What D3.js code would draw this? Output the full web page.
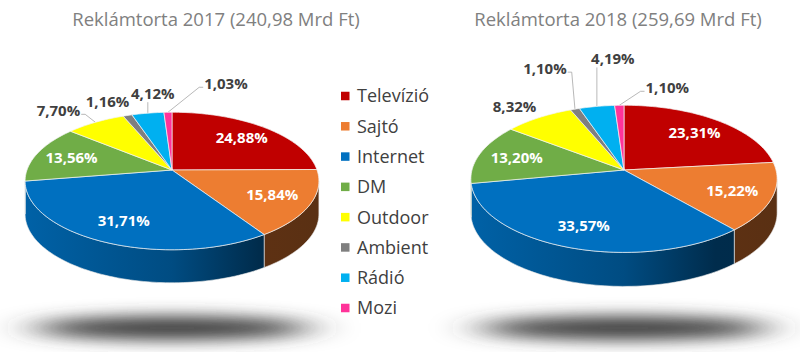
<!DOCTYPE html>
<html>
<head>
<meta charset="utf-8">
<script src="https://cdn.jsdelivr.net/npm/d3@7"></script>
<style>
  body { margin: 0; background: #fff; }
  svg { display: block; }
</style>
</head>
<body>
<div id="chart"></div>
<script>
// data
const categories = ["Televízió", "Sajtó", "Internet", "DM", "Outdoor", "Ambient", "Rádió", "Mozi"];
const colors = ["#c00000", "#ed7d31", "#0070c0", "#70ad47", "#ffff00", "#7f7f7f", "#00b0f0", "#ff3399"];
const values2017 = [24.88, 15.84, 31.71, 13.56, 7.70, 1.16, 4.12, 1.03];
const values2018 = [23.31, 15.22, 33.57, 13.20, 8.32, 1.10, 4.19, 1.10];
const titles = ["Reklámtorta 2017 (240,98 Mrd Ft)", "Reklámtorta 2018 (259,69 Mrd Ft)"];

const width = 800, height = 352;
const font = "'Open Sans', sans-serif";

// layout of the two tilted pies (k = perspective strength)
const pies = [
  { values: values2017, title: titles[0], titleX: 216, cx: 172, cy: 170, rx: 145, ry: 67, k: 0.16, depth: 33,
    outside: { 4: {dx: -37, dy: -12, line: true}, 5: {dx: -20, dy: -14, line: false},
               6: {dx: 5, dy: -20, line: true}, 7: {dx: 58, dy: -29, line: true} } },
  { values: values2018, title: titles[1], titleX: 618, cx: 624, cy: 170, rx: 152, ry: 72.5, k: 0.12, depth: 34,
    outside: { 4: {dx: -24, dy: -11, line: false}, 5: {dx: -30, dy: -41, line: true},
               6: {dx: 16, dy: -48, line: true}, 7: {dx: 48, dy: -18, line: true} } }
];

const svg = d3.select("#chart").append("svg")
  .attr("width", width).attr("height", height);
const defs = svg.append("defs");

const blur = defs.append("filter").attr("id", "shadowBlur")
  .attr("x", "-60%").attr("y", "-250%").attr("width", "220%").attr("height", "600%");
blur.append("feGaussianBlur").attr("stdDeviation", "24 8");

function project(p, angle, r, drop) {
  const u = r * Math.sin(angle), v = r * Math.cos(angle);
  const s = 1 + p.k * v;
  return [p.cx + p.rx * u / s, p.cy - p.ry * v / s + (drop || 0)];
}

function arcPoints(p, a0, a1, drop) {
  const n = Math.max(2, Math.ceil((a1 - a0) / (Math.PI / 120)));
  return d3.range(n + 1).map(i => project(p, a0 + (a1 - a0) * i / n, 1, drop));
}

const line = d3.line();
const pie = d3.pie().sort(null).value(d => d.value);

pies.forEach((p, pi) => {
  const data = categories.map((c, i) => ({ cat: c, value: p.values[i], color: colors[i], idx: i }));
  const arcs = pie(data);
  const g = svg.append("g");

  // floor shadow
  g.append("ellipse")
    .attr("cx", p.cx).attr("cy", 328)
    .attr("rx", p.rx * 0.95).attr("ry", 12)
    .attr("fill", "#3e3e3e")
    .attr("filter", "url(#shadowBlur)");

  // title
  g.append("text")
    .attr("x", p.titleX).attr("y", 26)
    .attr("text-anchor", "middle")
    .attr("font-family", font).attr("font-size", "18.5px")
    .attr("fill", "#808080")
    .text(p.title);

  // gradients for the side walls
  arcs.forEach(a => {
    const base = d3.color(a.data.color);
    const grad = defs.append("linearGradient")
      .attr("id", `side-${pi}-${a.index}`)
      .attr("gradientUnits", "userSpaceOnUse")
      .attr("x1", p.cx - p.rx).attr("x2", p.cx + p.rx)
      .attr("y1", 0).attr("y2", 0);
    [[0, 0.4], [0.5, 1.1], [0.8, 2.6], [1, 2.7]].forEach(([o, d]) => {
      grad.append("stop").attr("offset", o).attr("stop-color", base.darker(d).formatHex());
    });
  });

  // side walls (only the front half is visible)
  const thR = Math.acos(-p.k), thL = 2 * Math.PI - thR;
  arcs.forEach(a => {
    const a0 = Math.max(a.startAngle, thR), a1 = Math.min(a.endAngle, thL);
    if (a1 <= a0) return;
    const pts = arcPoints(p, a0, a1, 0).concat(arcPoints(p, a0, a1, p.depth).reverse());
    g.append("path")
      .attr("d", line(pts) + "Z")
      .attr("fill", `url(#side-${pi}-${a.index})`)
      .attr("stroke", "#e8e8e8").attr("stroke-width", 0.6);
  });

  // top faces
  arcs.forEach(a => {
    const pts = [[p.cx, p.cy]].concat(arcPoints(p, a.startAngle, a.endAngle, 0));
    g.append("path")
      .attr("d", line(pts) + "Z")
      .attr("fill", a.data.color)
      .attr("stroke", "#f4f4f4").attr("stroke-width", 0.7)
      .attr("stroke-linejoin", "round");
  });

  // labels
  arcs.forEach(a => {
    const mid = (a.startAngle + a.endAngle) / 2;
    const txt = d3.format(".2f")(a.data.value).replace(".", ",") + "%";
    const o = p.outside[a.index];
    if (!o) {
      const [x, y] = project(p, mid, 0.74, 0);
      g.append("text")
        .attr("x", x).attr("y", y).attr("dy", "0.36em")
        .attr("text-anchor", "middle")
        .attr("font-family", font).attr("font-size", "15px").attr("font-weight", "bold")
        .attr("fill", "#ffffff")
        .text(txt);
      return;
    }
    const anchor = project(p, mid, 1, 0);
    const lx = anchor[0] + o.dx, ly = anchor[1] + o.dy;
    const t = g.append("text")
      .attr("x", lx).attr("y", ly).attr("dy", "0.36em")
      .attr("text-anchor", "middle")
      .attr("font-family", font).attr("font-size", "15px").attr("font-weight", "bold")
      .attr("fill", "#404040")
      .text(txt);
    if (!o.line) return;
    const w = t.node().getComputedTextLength();
    const left = lx - w / 2, right = lx + w / 2;
    let pts;
    if (anchor[0] > left && anchor[0] < right) {
      pts = [anchor, [anchor[0], ly + 9]];
    } else if (anchor[0] <= left) {
      pts = [anchor, [left - 5, ly + 4], [left - 1, ly + 4]];
    } else {
      pts = [anchor, [right + 5, ly + 4], [right + 1, ly + 4]];
    }
    g.insert("path", "text")
      .attr("d", line(pts))
      .attr("fill", "none")
      .attr("stroke", "#a6a6a6").attr("stroke-width", 0.8);
  });
});

// legend
const legend = svg.append("g");
const rowY = d3.scalePoint().domain(categories).range([96, 308]);
categories.forEach((c, i) => {
  legend.append("rect")
    .attr("x", 341).attr("y", rowY(c) - 4.25)
    .attr("width", 8.5).attr("height", 8.5)
    .attr("fill", colors[i]);
  legend.append("text")
    .attr("x", 357).attr("y", rowY(c)).attr("dy", "0.36em")
    .attr("font-family", font).attr("font-size", "18px")
    .attr("fill", "#404040")
    .text(c);
});
</script>
</body>
</html>
